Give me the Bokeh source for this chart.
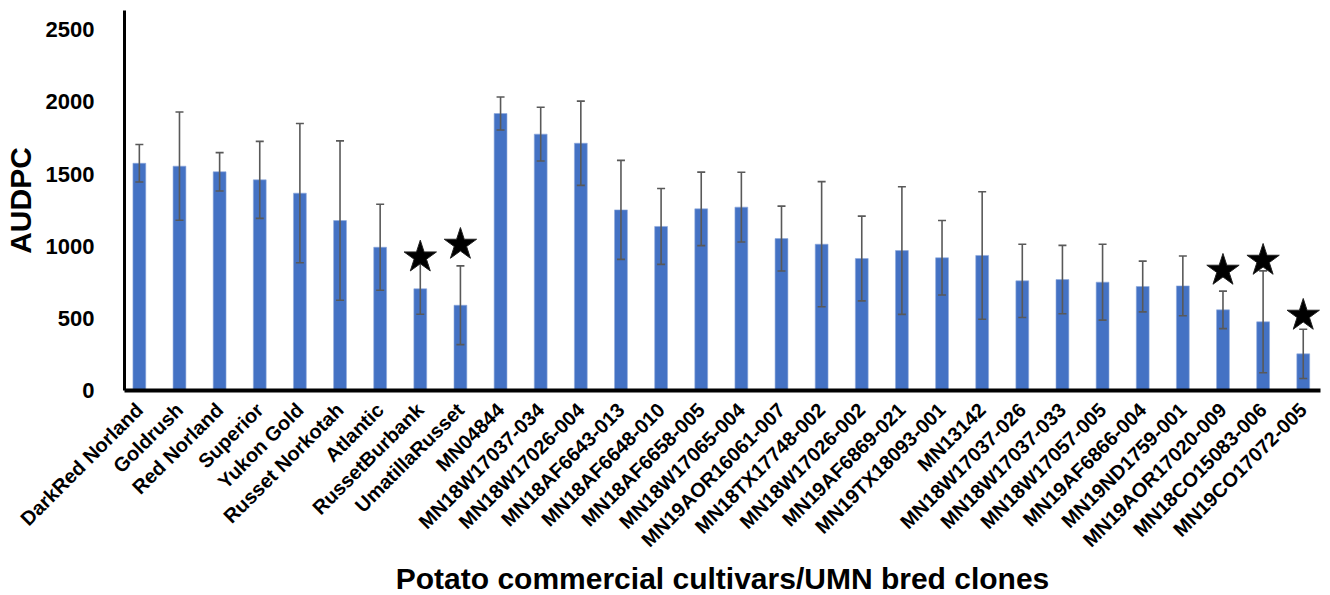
import math
from bokeh.plotting import figure
from bokeh.models import ColumnDataSource, Range1d, FixedTicker
from bokeh.embed import file_html
from bokeh.resources import INLINE

cultivars = [
    "DarkRed Norland", "Goldrush", "Red Norland", "Superior", "Yukon Gold",
    "Russet Norkotah", "Atlantic", "RussetBurbank", "UmatillaRusset", "MN04844",
    "MN18W17037-034", "MN18W17026-004", "MN18AF6643-013", "MN18AF6648-010",
    "MN18AF6658-005", "MN18W17065-004", "MN19AOR16061-007", "MN18TX17748-002",
    "MN18W17026-002", "MN19AF6869-021", "MN19TX18093-001", "MN13142",
    "MN18W17037-026", "MN18W17037-033", "MN18W17057-005", "MN19AF6866-004",
    "MN19ND1759-001", "MN19AOR17020-009", "MN18CO15083-006", "MN19CO17072-005",
]
audpc = [1575, 1555, 1516, 1460, 1368, 1178, 993, 705, 591, 1920,
         1777, 1714, 1252, 1137, 1259, 1271, 1053, 1014, 915, 970,
         920, 936, 760, 769, 751, 721, 725, 559, 476, 254]
sd = [130, 375, 133, 267, 483, 552, 298, 176, 273, 114,
      186, 292, 343, 263, 255, 242, 225, 434, 294, 442,
      258, 442, 254, 237, 263, 176, 207, 130, 353, 171]
starred = ["RussetBurbank", "UmatillaRusset", "MN19AOR17020-009",
           "MN18CO15083-006", "MN19CO17072-005"]
star_y = [924, 1012, 832, 901, 520]
y_ticks = [0, 500, 1000, 1500, 2000, 2500]

x = list(range(len(cultivars)))
src = ColumnDataSource(dict(
    x=x, y=audpc,
    upper=[a + s for a, s in zip(audpc, sd)],
    lower=[a - s for a, s in zip(audpc, sd)],
))
star_src = ColumnDataSource(dict(x=[cultivars.index(c) for c in starred], y=star_y))

FONT = "Liberation Sans"
p = figure(frame_width=1196, frame_height=380,
           x_range=Range1d(-0.37, 29.43), y_range=Range1d(0, 2634),
           output_backend="svg", toolbar_location=None,
           min_border_left=114, min_border_top=10, min_border_right=4,
           min_border_bottom=0)
p.background_fill_color = "white"
p.border_fill_color = "white"
p.outline_line_color = None
p.grid.visible = False

BLUE = "#4472C4"
ERR = "#595959"
p.vbar(x="x", top="y", width=0.32, bottom=0, source=src,
       fill_color=BLUE, line_color="#8FAADC", line_width=0.6)
p.segment(x0="x", y0="lower", x1="x", y1="upper", source=src,
          line_color=ERR, line_width=1.6)
p.scatter(x="x", y="upper", source=src, marker="dash", size=8,
          line_color=ERR, line_width=1.6)
p.scatter(x="x", y="lower", source=src, marker="dash", size=8,
          line_color=ERR, line_width=1.6)
p.scatter(x="x", y="y", source=star_src, marker="star", size=34,
          fill_color="black", line_color="#222222", line_width=1)

# y axis
ya = p.yaxis[0]
ya.ticker = FixedTicker(ticks=y_ticks)
ya.minor_tick_line_color = None
ya.major_tick_line_color = None
ya.axis_line_color = "black"
ya.axis_line_width = 3
ya.major_label_text_font = FONT
ya.major_label_text_font_style = "bold"
ya.major_label_text_font_size = "22px"
ya.major_label_text_color = "black"
ya.major_label_standoff = 24
ya.axis_label = "AUDPC"
ya.axis_label_text_font = FONT
ya.axis_label_text_font_style = "bold"
ya.axis_label_text_font_size = "30px"
ya.axis_label_text_color = "black"
ya.axis_label_standoff = 6

# x axis
xa = p.xaxis[0]
xa.ticker = FixedTicker(ticks=x)
xa.major_label_overrides = {i: c for i, c in zip(x, cultivars)}
xa.major_label_orientation = math.pi / 4
xa.minor_tick_line_color = None
xa.major_tick_line_color = None
xa.axis_line_color = "black"
xa.axis_line_width = 4
xa.major_label_text_font = FONT
xa.major_label_text_font_style = "bold"
xa.major_label_text_font_size = "20px"
xa.major_label_text_color = "black"
xa.major_label_standoff = 10
xa.axis_label = "Potato commercial cultivars/UMN bred clones"
xa.axis_label_text_font = FONT
xa.axis_label_text_font_style = "bold"
xa.axis_label_text_font_size = "30px"
xa.axis_label_text_color = "black"
xa.axis_label_standoff = 0

open("out.html", "w").write(file_html(p, INLINE))
